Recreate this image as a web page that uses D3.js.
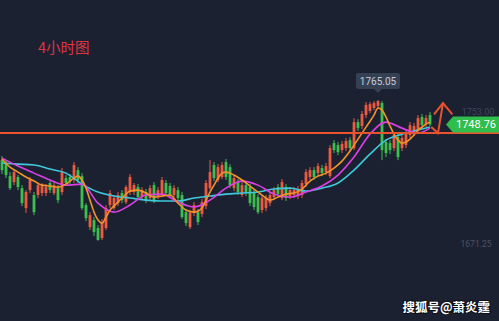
<!DOCTYPE html>
<html>
<head>
<meta charset="utf-8">
<script src="https://cdn.jsdelivr.net/npm/d3@7"></script>
<style>
body{margin:0;background:#1c2132;}
svg{display:block;}
</style>
</head>
<body>
<script>
// 4h candles
var opens = [1725,1723,1714.3,1710.3,1713.7,1706.3,1693,1705,1701.7,1701.7,
  1703,1703,1709.7,1703,1706.3,1703.7,1713,1713.7,1711.7,1718.3,
  1714.3,1695,1680.3,1685,1679.7,1673,1679.7,1695,1693,1696.3,
  1703,1697,1703.7,1703.7,1707,1700.3,1703.7,1699.7,1708.3,1700.3,
  1701.7,1709.7,1707.7,1701.7,1705,1701.7,1690.3,1680.3,1689.7,1690.3,
  1689,1694.3,1706.3,1721.7,1711.7,1713.7,1723.7,1720.3,1706.3,1710.3,
  1701.7,1708.3,1707,1703.7,1700.3,1691.7,1693,1696.3,1700.3,1707,
  1699.7,1707,1701,1701.7,1701,1701.7,1709,1713.7,1718.3,1716.3,
  1719.7,1717,1714.3,1736.3,1735,1731.7,1733,1738.3,1733,1750.3,
  1747.7,1755,1757.7,1759.7,1761,1763,1737,1736.3,1733,1740.3,
  1733,1735,1741.7,1743,1745,1753.7,1749,1755];
var highs = [1727.7,1725,1717,1718.3,1715,1708.3,1705,1713.7,1703.7,1710.3,
  1709.7,1709,1711,1710.3,1708.3,1719.7,1715,1715.7,1723.7,1720.3,
  1716.3,1696.3,1690.3,1687,1681.7,1685.7,1695,1705,1701.7,1703.7,
  1705,1708.3,1715.7,1709.7,1709,1707,1705.7,1708.3,1710.3,1707,
  1713.7,1711.7,1709.7,1708.3,1707,1703.7,1692.3,1691.7,1697,1692.3,
  1699,1711.7,1725,1723.7,1722.3,1723.7,1725.7,1722.3,1715,1712.3,
  1710.3,1710.3,1709,1705.7,1702.3,1701.7,1701.7,1703.7,1707,1709,
  1712.3,1709,1707,1707,1707.7,1711.7,1719,1720.3,1720.3,1723,
  1721.7,1723,1735,1738.3,1737,1737.7,1739.7,1740.3,1753,1752.3,
  1757.7,1763.7,1763.7,1764.3,1765.05,1764.3,1739,1738.3,1743.7,1742.3,
  1741.7,1745.7,1750.3,1749.7,1755,1755.7,1755,1757];
var lows = [1715.7,1713,1705,1708.3,1705,1694.3,1689.7,1703,1688.3,1699.7,
  1701,1701,1703,1701.7,1696.3,1701.7,1707.7,1709,1709.7,1709.7,
  1691.7,1684.3,1678.3,1674.3,1671.25,1671.7,1678.3,1693,1691.7,1694.3,
  1696.3,1695.7,1701.7,1701.7,1698.3,1699,1696.3,1697.7,1696.3,1699,
  1700.3,1701.7,1700.3,1700.3,1697.7,1685.7,1681,1679,1687.7,1681.7,
  1687,1692.3,1705,1711,1710.3,1712.3,1711.7,1706.3,1704.3,1701.7,
  1700.3,1701,1694.3,1691.7,1689,1689.7,1691,1694.3,1698.3,1700.3,
  1698.3,1697.7,1699,1699.7,1699,1699.7,1707,1711.7,1711.7,1714.3,
  1714.3,1715,1713,1729.7,1728.3,1729.7,1731,1731,1731.7,1744.3,
  1745.7,1753,1756.3,1758.3,1759,1725,1727,1729,1731,1725,
  1731,1733,1739.7,1741,1743,1746.3,1747,1747.7];
var closes = [1718.3,1715,1706.3,1717,1707,1696.3,1703.7,1711.7,1690.3,1708.3,
  1707.7,1707,1705,1708.3,1698.3,1717,1709.7,1711,1721.7,1711.7,
  1693,1686.3,1688.3,1677,1671.7,1683.7,1693,1703,1699.7,1701.7,
  1698.3,1707,1713.7,1708.3,1700.3,1705,1698.3,1706.3,1698.3,1705,
  1711.7,1703,1701.7,1706.3,1699.7,1687,1683,1689.7,1695,1683.7,
  1697,1709.7,1717,1713,1720.3,1721.7,1713.7,1708.3,1713,1703.7,
  1708.3,1703,1696.3,1693.7,1690.3,1699.7,1699.7,1701.7,1705,1702.3,
  1710.3,1699.7,1705,1705,1705.7,1709.7,1717,1718.3,1713.7,1721,
  1716.3,1721,1733,1731.7,1730.3,1735.7,1737.7,1733,1750.3,1746.3,
  1755.7,1761.7,1762.3,1763,1764.3,1731.7,1729.7,1731.7,1741.7,1727,
  1739.7,1743.7,1748.3,1747.7,1753,1748.3,1753,1748.76];

// moving average lines, sampled at candle indexes
var fastIdx = [0,2,4,6,8,10,12,14,16,18,19,20,21,22,23,24,25,26,27,28,29,30,31,32,34,36,38,40,42,44,46,48,
  50,51,52,53,54,55,56,58,60,62,64,66,67,69,71,73,75,77,79,81,83,85,87,89,91,93,94,95,96,97,98,99,100,
  101,102,103,104,105,106,107];
var fastMA = [1725.7,1720.3,1717,1713.7,1711,1708.3,1707.7,1707,1709,1713,1714.3,1711.7,1706.3,1698.3,1690.3,1685,
  1683,1687,1691.7,1694.3,1697,1699.7,1702.3,1704.3,1705,1703,1700.3,1701,1701.7,1696.3,1691.7,1690.3,
  1693,1698.3,1703.7,1708.3,1713,1716.3,1717,1715,1711.7,1707.7,1703.7,1699.7,1698.3,1700.3,1702.3,1703,
  1705.7,1711,1714.3,1716.3,1719.7,1724.3,1731,1739,1747,1755,1759.7,1758.3,1753.7,1747.7,1742.3,1738.3,
  1736.3,1737,1739,1741.7,1745,1747,1749,1750.3];
var slowIdx = [0,4,8,12,16,20,24,28,32,36,40,44,48,52,56,60,64,68,72,76,80,84,88,92,96,100,104,107];
var midMA = [1726.3,1721,1716.3,1711.7,1708.3,1709,1696.3,1690.3,1695,1701.7,1702.3,1697,1693.7,1698.3,
  1706.3,1711,1708.3,1702.3,1700.3,1703.7,1707.7,1715,1727,1742.3,1750.3,1746.3,1743,1746.3];
var slowMA = [1723,1722.3,1721.7,1719,1716.3,1709,1703.7,1701,1699.7,1698.3,1697.7,1697.7,1699.7,1701,
  1702.3,1703,1703.7,1705.7,1706.3,1704.3,1706.3,1709.7,1718.3,1729,1738.3,1742.3,1745,1747];

var level = 1743;          // the drawn horizontal line
var topPrice = 1765.05;
var lastPrice = 1748.76;
var lowPrice = 1671.25;
var ghostPrice = "1753.00";
// hand-drawn arrow, [index, price]
var arrowPts = [[107.3,1747],[109,1743],[110.25,1763]];
var arrowHead = [[108,1755.5],[110.25,1763],[112.6,1755.5]];

var width = 499, height = 321;
var upColor = "#ec5a3f", downColor = "#3dbf4d", lineRed = "#e8532f";

var svg = d3.select("body").append("svg").attr("width",width).attr("height",height);
svg.append("rect").attr("width",width).attr("height",height).attr("fill","#1c2132");

var x = d3.scaleLinear().domain([0,107]).range([2,430]);
var y = d3.scaleLinear().domain([lowPrice,topPrice]).range([240.7,100]);
var bw = (x(1)-x(0))*0.7;

var candles = opens.map(function(o,i){ return {i:i,o:o,h:highs[i],l:lows[i],c:closes[i]}; });

var cg = svg.append("g");
var cndl = cg.selectAll("g").data(candles).enter().append("g")
  .attr("fill",function(d){ return d.c>=d.o ? upColor : downColor; })
  .attr("stroke",function(d){ return d.c>=d.o ? upColor : downColor; });
cndl.append("line")
  .attr("x1",function(d){ return x(d.i); }).attr("x2",function(d){ return x(d.i); })
  .attr("y1",function(d){ return y(d.h); }).attr("y2",function(d){ return y(d.l); })
  .attr("stroke-width",1);
cndl.append("rect")
  .attr("x",function(d){ return x(d.i)-bw/2; })
  .attr("y",function(d){ return y(Math.max(d.o,d.c)); })
  .attr("width",bw)
  .attr("height",function(d){ return Math.max(1,Math.abs(y(d.o)-y(d.c))); })
  .attr("stroke","none");

// MA lines
function maLine(idx,vals,color){
  var pts = idx.map(function(k,j){ return [k,vals[j]]; });
  svg.append("path").datum(pts)
    .attr("fill","none").attr("stroke",color).attr("stroke-width",1.6)
    .attr("d",d3.line().x(function(d){ return x(d[0]); }).y(function(d){ return y(d[1]); }).curve(d3.curveMonotoneX));
}
maLine(slowIdx,slowMA,"#3ec9dc");
maLine(slowIdx,midMA,"#dc3fe4");
maLine(fastIdx,fastMA,"#f2922c");

// horizontal level
svg.append("line").attr("x1",0).attr("x2",width).attr("y1",y(level)).attr("y2",y(level))
  .attr("stroke",lineRed).attr("stroke-width",2);

// arrow
var al = d3.line().x(function(d){ return x(d[0]); }).y(function(d){ return y(d[1]); });
svg.append("path").attr("d",al(arrowPts)).attr("fill","none").attr("stroke",lineRed).attr("stroke-width",2);
svg.append("path").attr("d",al(arrowHead)).attr("fill","none").attr("stroke",lineRed).attr("stroke-width",2);

// high label
var hx = x(94), hy = y(topPrice);
svg.append("rect").attr("x",hx-22).attr("y",hy-27).attr("width",44).attr("height",16).attr("rx",2).attr("fill","#364053");
svg.append("path").attr("d","M"+(hx-4)+","+(hy-11)+"L"+(hx+4)+","+(hy-11)+"L"+hx+","+(hy-7)+"Z").attr("fill","#364053");
svg.append("text").attr("x",hx).attr("y",hy-15.5).attr("text-anchor","middle")
  .attr("font-family","Roboto, sans-serif").attr("font-size",10).attr("fill","#c9ced8").text(topPrice.toFixed(2));

// faint axis label just above the price tag
svg.append("text").attr("x",478).attr("y",y(lastPrice)-9.5).attr("text-anchor","middle")
  .attr("font-family","Roboto, sans-serif").attr("font-size",9).attr("fill","#3e4758").text(ghostPrice);

// last price tag
var ly = y(lastPrice);
svg.append("path").attr("d","M446,"+ly+"L453,"+(ly-8)+"L499,"+(ly-8)+"L499,"+(ly+8)+"L453,"+(ly+8)+"Z").attr("fill","#2fbd4c");
svg.append("text").attr("x",476).attr("y",ly+4).attr("text-anchor","middle")
  .attr("font-family","Roboto, sans-serif").attr("font-size",11).attr("fill","#ffffff").text(lastPrice.toFixed(2));

// low label
svg.append("text").attr("x",476).attr("y",y(lowPrice)+6).attr("text-anchor","middle")
  .attr("font-family","Roboto, sans-serif").attr("font-size",8.5).attr("fill","#4a5365").text(lowPrice.toFixed(2));

// title
svg.append("text").attr("x",38).attr("y",53)
  .attr("font-family","'Noto Sans CJK SC', sans-serif").attr("font-size",14.5).attr("fill","#e23340").text("4小时图");

// watermark
svg.append("text").attr("x",490).attr("y",312).attr("text-anchor","end")
  .attr("font-family","'Noto Sans CJK SC', sans-serif").attr("font-size",12.5).attr("font-weight","bold")
  .attr("fill","#ffffff").style("paint-order","stroke").attr("stroke","rgba(0,0,0,0.5)").attr("stroke-width",2)
  .text("搜狐号@萧炎霆");
</script>
</body>
</html>
